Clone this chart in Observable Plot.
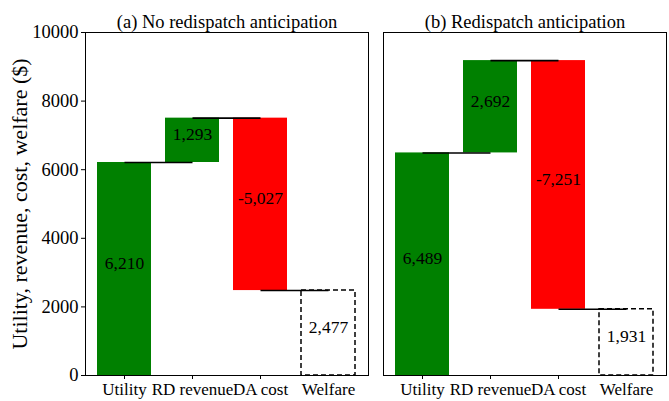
<!DOCTYPE html>
<html>
<head>
<meta charset="utf-8">
<script src="https://cdn.jsdelivr.net/npm/d3@7"></script>
<script src="https://cdn.jsdelivr.net/npm/@observablehq/plot@0.6"></script>
<style>
  html, body { margin: 0; padding: 0; background: #fff; }
  #chart { width: 669px; height: 401px; }
</style>
</head>
<body>
<div id="chart"></div>
<script>
const categories = ["Utility", "RD revenue", "DA cost", "Welfare"];
const panels = ["(a) No redispatch anticipation", "(b) Redispatch anticipation"];
const utility = [6210, 6489];
const rdRevenue = [1293, 2692];
const daCost = [-5027, -7251];
const welfare = [2477, 1931];
const yTicks = [0, 2000, 4000, 6000, 8000, 10000];
const yLabel = "Utility, revenue, cost, welfare ($)";

const bars = [];
const links = [];
panels.forEach((panel, i) => {
  const steps = [utility[i], rdRevenue[i], daCost[i]];
  let level = 0;
  steps.forEach((v, k) => {
    const start = level, end = level + v;
    bars.push({panel, cat: categories[k], y1: start, y2: end, value: v, kind: v >= 0 ? "pos" : "neg"});
    links.push({panel, c1: categories[k], c2: categories[k + 1], level: end});
    level = end;
  });
  bars.push({panel, cat: categories[3], y1: 0, y2: welfare[i], value: welfare[i], kind: "total"});
});

const solid = bars.filter(d => d.kind !== "total");
const totals = bars.filter(d => d.kind === "total");
const fmt = v => d3.format(",")(v).replace("\u2212", "-");

const chart = Plot.plot({
  width: 669,
  height: 401,
  marginLeft: 85,
  marginRight: 2,
  marginTop: 32,
  marginBottom: 26,
  style: {fontFamily: "'Liberation Serif', 'Times New Roman', serif", fontSize: "18px", color: "#000", background: "#fff"},
  fx: {domain: panels, padding: 0.05, label: null},
  x: {domain: categories, paddingInner: 0.2, paddingOuter: 0.18, label: null},
  y: {domain: [0, 10000], label: null},
  marks: [
    Plot.barY(solid, {fx: "panel", x: "cat", y1: "y1", y2: "y2", fill: d => d.kind === "pos" ? "#008000" : "#ff0000"}),
    Plot.barY(totals, {fx: "panel", x: "cat", y1: "y1", y2: "y2", fill: "none", stroke: "#000", strokeWidth: 1.5, strokeDasharray: "5,3"}),
    Plot.link(links, {fx: "panel", x1: "c1", x2: "c2", y1: "level", y2: "level", stroke: "#000", strokeWidth: 1.6}),
    Plot.text(bars, {fx: "panel", x: "cat", y: d => (d.y1 + d.y2) / 2, text: d => fmt(d.value), lineAnchor: "bottom", fontSize: 17.5, fill: "#000"}),
    Plot.frame({stroke: "#000", strokeWidth: 1}),
    Plot.axisFx({anchor: "top", tickSize: 0, tickPadding: 5, fontSize: 18.5, label: null}),
    Plot.axisY({ticks: yTicks, tickFormat: d3.format("d"), tickSize: 4, tickPadding: 3, label: null, fontSize: 18.5}),
    Plot.text([{panel: panels[0], label: yLabel}], {fx: "panel", frameAnchor: "left", text: "label", rotate: -90, textAnchor: "middle", dx: -66, fontSize: 22, fill: "#000"}),
    Plot.axisX({ticks: categories.slice(0, 3), tickSize: 4, tickPadding: 3, label: null, fontSize: 17}),
    Plot.axisX({ticks: categories.slice(3), tickSize: 0, tickPadding: 7, label: null, fontSize: 17})
  ]
});
document.getElementById("chart").appendChild(chart);
</script>
</body>
</html>
